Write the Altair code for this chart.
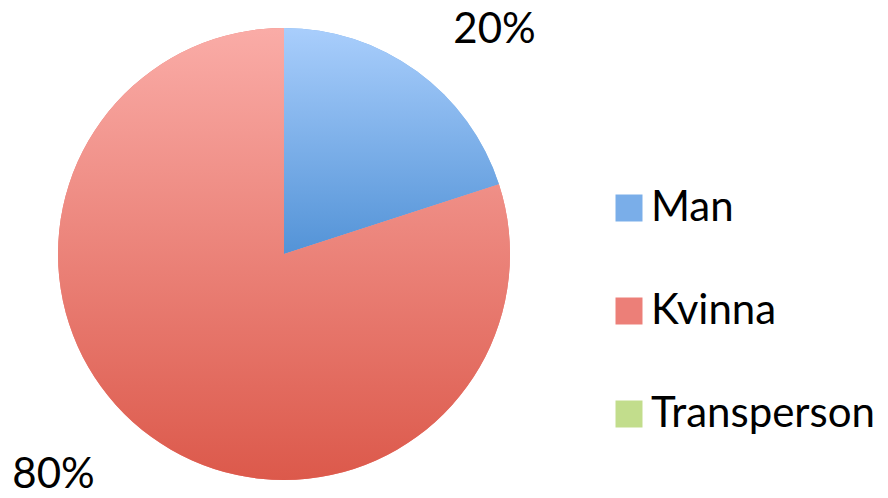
import altair as alt
import pandas as pd

categories = ["Man", "Kvinna", "Transperson"]
values = [20, 80, 0]
labels = ["20%", "80%", ""]
order = [0, 1, 2]

legend_colors = ["#7AAEE9", "#EC7F78", "#C2DD8C"]
grad_top = {"Man": "#A9CEFC", "Kvinna": "#FAACA7"}
grad_bottom = {"Man": "#5393D7", "Kvinna": "#DC594B"}

df = pd.DataFrame({"cat": categories, "value": values, "label": labels, "ord": order})

CX, CY, R = 276, 246, 226
FONT = "Lato"

base = (
    alt.Chart(df)
    .transform_stack(stack="value", groupby=[], as_=["v0", "v1"], sort=[alt.SortField("ord")])
    .transform_calculate(mid="(datum.v0 + datum.v1) / 2")
)

theta_scale = alt.Scale(domain=[0, 100])

solid = base.mark_arc(radius=R).encode(
    theta=alt.Theta("v0:Q", scale=theta_scale),
    theta2="v1:Q",
    x=alt.value(CX),
    y=alt.value(CY),
    color=alt.Color(
        "cat:N",
        scale=alt.Scale(domain=categories, range=legend_colors),
        legend=alt.Legend(
            title=None,
            orient="none",
            legendX=600,
            legendY=179,
            symbolType="square",
            symbolSize=729,
            symbolStrokeWidth=0,
            symbolOpacity=1,
            labelFont=FONT,
            labelFontSize=42,
            labelColor="black",
            labelOffset=1,
            labelLimit=400,
            rowPadding=61,
            padding=0,
        ),
    ),
)


def grad(cat):
    return alt.LinearGradient(
        gradient="linear",
        stops=[
            alt.GradientStop(color=grad_top[cat], offset=0),
            alt.GradientStop(color=grad_bottom[cat], offset=1),
        ],
        x1=0, x2=0, y1=0, y2=1,
    )


overlays = []
for cat in ["Man", "Kvinna"]:
    overlays.append(
        base.transform_filter(alt.datum.cat == cat)
        .mark_arc(radius=R, fill=grad(cat))
        .encode(
            theta=alt.Theta("v0:Q", scale=theta_scale),
            theta2="v1:Q",
            x=alt.value(CX),
            y=alt.value(CY),
        )
    )

text_offsets = {"Man": (40, 24), "Kvinna": (-60, -1)}
texts = []
for cat, (dx, dy) in text_offsets.items():
    texts.append(
        base.transform_filter(alt.datum.cat == cat)
        .mark_text(radius=290, dx=dx, dy=dy, font=FONT, fontSize=42, color="black", baseline="alphabetic", align="center")
        .encode(
            theta=alt.Theta("mid:Q", scale=theta_scale),
            text="label:N",
            x=alt.value(CX),
            y=alt.value(CY),
        )
    )

chart = (
    alt.layer(solid, *overlays, *texts)
    .properties(width=872, height=482, autosize=alt.AutoSizeParams(type="none"), padding=0)
    .configure_view(stroke=None)
)

chart.save("out.html", embed_options={"renderer": "svg", "actions": False})
